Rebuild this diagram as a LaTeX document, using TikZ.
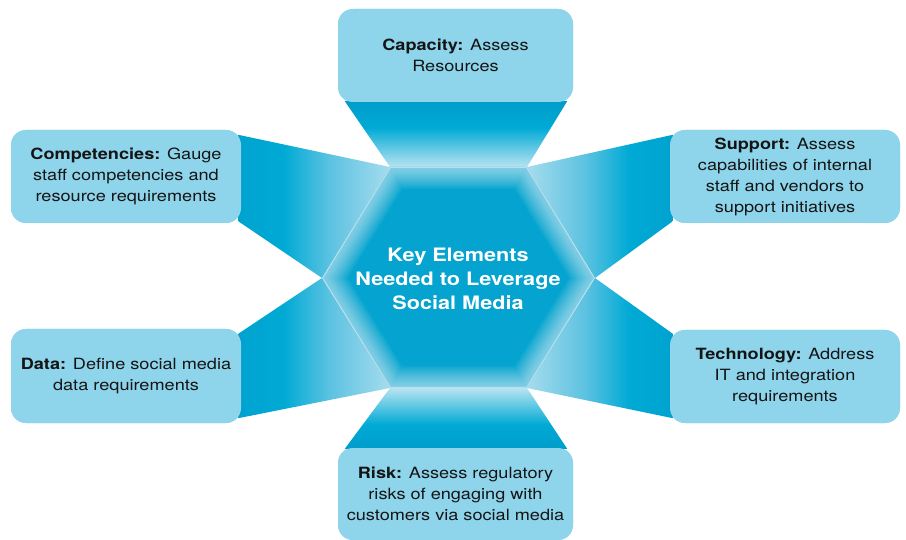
\documentclass[tikz,border=0pt]{standalone}
\usepackage{fontspec}
\setmainfont{TeX Gyre Heros}[FakeStretch=1.17]
\usetikzlibrary{calc}
\definecolor{boxfill}{HTML}{8ED5EC}
\definecolor{deep}{HTML}{0096C4}
\definecolor{midc}{HTML}{00AAD5}
\definecolor{txt}{HTML}{141414}
\definecolor{hexc}{HTML}{05A4D0}
\definecolor{hexm}{HTML}{20AFD8}
\definecolor{hexo}{HTML}{5EC2E2}
\definecolor{c55}{HTML}{5CC2E1}
\definecolor{c85}{HTML}{CBE9F4}
\definecolor{c100}{HTML}{F4FBFD}
\pgfdeclarehorizontalshading{lconn}{100bp}{color(0bp)=(deep); color(40bp)=(midc); color(55bp)=(c55); color(85bp)=(c85); color(100bp)=(c100)}
\pgfdeclareverticalshading{vconn}{100bp}{color(0bp)=(c100); color(22bp)=(c85); color(55bp)=(midc); color(85bp)=(deep); color(100bp)=(deep)}
\pgfdeclareradialshading{hexglow}{\pgfpoint{0bp}{0bp}}{color(0bp)=(hexc); color(30bp)=(hexc); color(44bp)=(hexm); color(50bp)=(hexo)}
\begin{document}
\begin{tikzpicture}[x=1pt,y=-1pt,
  box/.style={fill=boxfill, draw=none, rounded corners=15pt, align=center,
    font=\fontsize{15.5}{21}\selectfont, text=txt, inner sep=0pt},
  center/.style={font=\bfseries\fontsize{18.5}{24}\selectfont, text=white, align=center, inner sep=0pt}]
\useasboundingbox (0,0) rectangle (906,540);
% hexagon vertices
\coordinate (h1) at (390,167);
\coordinate (h2) at (527,167);
\coordinate (h3) at (595,278);
\coordinate (h4) at (527,388);
\coordinate (h5) at (390,388);
\coordinate (h6) at (322,278);
% boxes (placed first as nodes for anchors, redrawn on top)
\path (455.5,55.5) node[box, minimum width=235, minimum height=93] (cap) {};
\path (126,176.5) node[box, minimum width=230, minimum height=93] (comp) {};
\path (126,376) node[box, minimum width=230, minimum height=94] (data) {};
\path (785,176.5) node[box, minimum width=230, minimum height=93] (supp) {};
\path (785,376.5) node[box, minimum width=230, minimum height=93] (tech) {};
\path (455.5,494) node[box, minimum width=235, minimum height=92] (risk) {};
% connectors
\shade[shading=vconn] ($(cap.south west)+(7,-1)$) -- ($(cap.south east)+(-6,-1)$) -- (h2) -- (h1) -- cycle;
\shade[shading=vconn, shading angle=180] (h5) -- (h4) -- ($(risk.north east)+(-6,1)$) -- ($(risk.north west)+(7,1)$) -- cycle;
\shade[shading=lconn] ($(comp.north east)+(-3,5)$) -- (h1) -- (h6) -- ($(comp.south east)+(-3,-2)$) -- cycle;
\shade[shading=lconn] ($(data.north east)+(-3,5)$) -- (h6) -- (h5) -- ($(data.south east)+(-3,-5)$) -- cycle;
\shade[shading=lconn, shading angle=180] ($(supp.north west)+(3,5)$) -- (h2) -- (h3) -- ($(supp.south west)+(3,-2)$) -- cycle;
\shade[shading=lconn, shading angle=180] ($(tech.north west)+(3,4)$) -- (h3) -- (h4) -- ($(tech.south west)+(3,-5)$) -- cycle;
% hexagon
\shade[shading=hexglow] (h1) -- (h2) -- (h3) -- (h4) -- (h5) -- (h6) -- cycle;
\begin{scope}
\clip (h1) -- (h2) -- (h3) -- (h4) -- (h5) -- (h6) -- cycle;
\foreach \w in {2,4,...,44}{
  \draw[white, opacity=0.035, line width=\w pt, line join=round] (h1) -- (h2) -- (h3) -- (h4) -- (h5) -- (h6) -- cycle;
}
\draw[white, opacity=0.4, line width=2pt, line join=miter] (h1) -- (h2) -- (h3) -- (h4) -- (h5) -- (h6) -- cycle;
\end{scope}
\node[center] (core) at (458,279) {Key Elements\\Needed to Leverage\\Social Media};
% boxes with text
\node[box, minimum width=235, minimum height=93] at (cap) {\textbf{Capacity:} Assess\\Resources};
\node[box, minimum width=230, minimum height=93] at (comp) {\textbf{Competencies:} Gauge\\staff competencies and\\resource requirements};
\node[box, minimum width=230, minimum height=94] at (data) {\textbf{Data:} Define social media\\data requirements};
\node[box, minimum width=230, minimum height=93] at (supp) {\textbf{Support:} Assess\\capabilities of internal\\staff and vendors to\\support initiatives};
\node[box, minimum width=230, minimum height=93] at (tech) {\textbf{Technology:} Address\\IT and integration\\requirements};
\node[box, minimum width=235, minimum height=92] at (risk) {\textbf{Risk:} Assess regulatory\\risks of engaging with\\customers via social media};
\end{tikzpicture}
\end{document}
